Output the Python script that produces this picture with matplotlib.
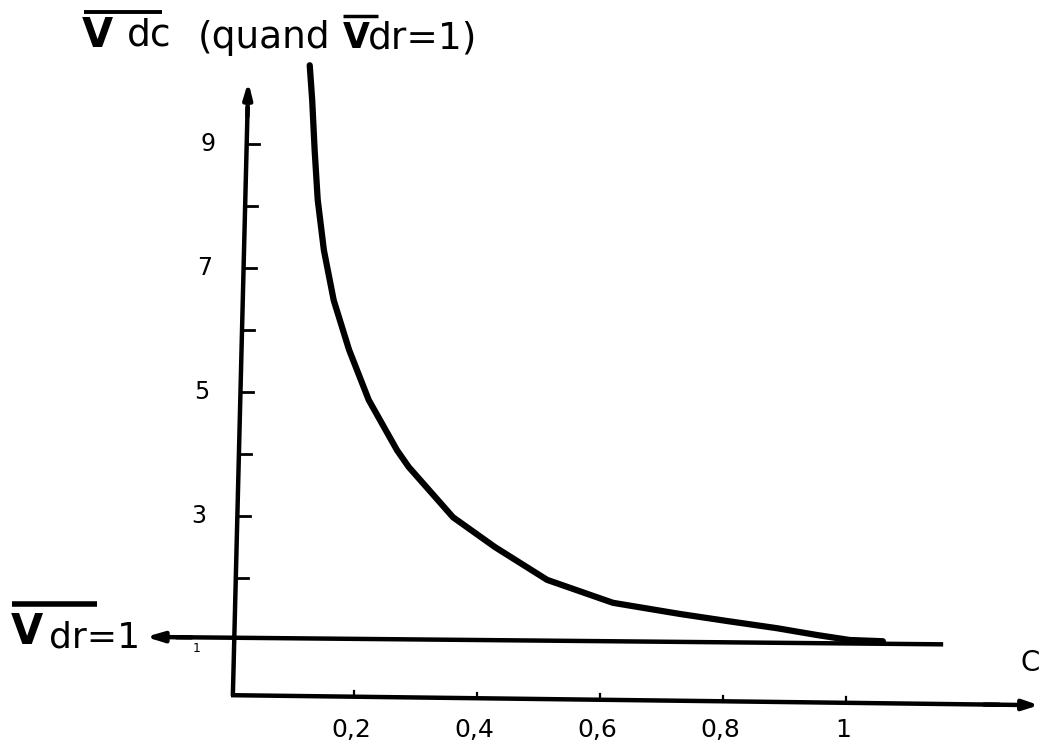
import matplotlib
matplotlib.use("Agg")
import matplotlib.pyplot as plt

# Data
c_values = [0.128, 0.132, 0.136, 0.141, 0.151, 0.167, 0.192, 0.224, 0.270,
            0.289, 0.361, 0.429, 0.514, 0.621, 0.730, 0.811, 0.888, 0.953,
            1.006, 1.06]
v_values = [10.27, 9.71, 8.90, 8.10, 7.29, 6.48, 5.68, 4.87, 4.06,
            3.79, 2.98, 2.50, 1.97, 1.60, 1.42, 1.30, 1.19, 1.08,
            1.00, 0.98]
x_ticks = [0.2, 0.4, 0.6, 0.8, 1.0]
x_tick_labels = ["0,2", "0,4", "0,6", "0,8", "1"]
y_ticks = [2, 3, 4, 5, 6, 7, 8, 9]
y_label_values = [3, 5, 7, 9]
y_tick_labels = ["3", "5", "7", "9"]

W, H = 1043, 744
fig = plt.figure(figsize=(W / 100, H / 100), dpi=100)
ax = fig.add_axes([0, 0, 1, 1])
# layout mapping: x_px = 231 + 615*c ; y_px = 702 - 62*v
ax.set_xlim(-231 / 615, (W - 231) / 615)
ax.set_ylim((702 - H) / 62, 702 / 62)
ax.axis("off")


def P(px, py):
    """pixel position (from top-left) -> data coordinates (for annotations)"""
    return (px - 231) / 615, (702 - py) / 62


black = "black"
lw_axis = 3.2
FONT = "DejaVu Sans"

# y-axis (slightly tilted, as drawn by hand)
def yaxis_x(v):
    return 0.003 + (0.028 - 0.003) * (v - 0.1) / (9.98 - 0.1)

ax.plot([yaxis_x(0.1), yaxis_x(9.6)], [0.1, 9.6], color=black, lw=lw_axis,
        solid_capstyle="butt")
ax.annotate("", xy=(yaxis_x(10.05), 10.05), xytext=(yaxis_x(9.4), 9.4),
            arrowprops=dict(arrowstyle="-|>,head_length=0.9,head_width=0.25",
                            color=black, lw=lw_axis))
for t in y_ticks:
    x0 = yaxis_x(t)
    ax.plot([x0, x0 + 0.02], [t, t], color=black, lw=2.0)
for v, lab in zip(y_label_values, y_tick_labels):
    ax.text(yaxis_x(v) - 0.063, v, lab, ha="center", va="center",
            fontsize=17, family=FONT)

# x-axis (slightly tilted)
def xaxis_y(c):
    return 0.11 + (-0.05 - 0.11) * c / 1.3

ax.plot([0.0, 1.25], [xaxis_y(0.0), xaxis_y(1.25)], color=black, lw=lw_axis,
        solid_capstyle="butt")
ax.annotate("", xy=(1.318, xaxis_y(1.318)), xytext=(1.22, xaxis_y(1.22)),
            arrowprops=dict(arrowstyle="-|>,head_length=0.9,head_width=0.3",
                            color=black, lw=lw_axis))
for t, lab in zip(x_ticks, x_tick_labels):
    y0 = xaxis_y(t)
    ax.plot([t, t], [y0, y0 + 0.09], color=black, lw=1.6)
    ax.text(t - 0.005, -0.45, lab, ha="center", va="center",
            fontsize=18, family=FONT)
ax.text(*P(1030, 663), "C", ha="center", va="center", fontsize=20,
        family=FONT)

# horizontal line at 1 with arrow pointing left
def hline_y(c):
    return 1.05 + (0.93 - 1.05) * (c + 0.143) / (1.158 + 0.143)

ax.plot([-0.09, 1.158], [hline_y(-0.09), hline_y(1.158)], color=black,
        lw=lw_axis, solid_capstyle="butt")
ax.annotate("", xy=(-0.143, hline_y(-0.143)), xytext=(-0.06, hline_y(-0.06)),
            arrowprops=dict(arrowstyle="-|>,head_length=1.0,head_width=0.3",
                            color=black, lw=lw_axis))
ax.text(*P(197, 648), "1", ha="center", va="center", fontsize=9, family=FONT)

# left label: radical drawn as bold V with overline, then "dr=1"
ax.text(*P(27, 632), "V", ha="center", va="center", fontsize=30,
        fontweight="bold", family=FONT)
x0, y0 = P(12, 604)
x1, _ = P(97, 604)
ax.plot([x0, x1], [y0, y0], color=black, lw=4.0, solid_capstyle="butt")
ax.text(*P(49, 638), "dr=1", ha="left", va="center", fontsize=26,
        family=FONT)

# curve
ax.plot(c_values, v_values, color=black, lw=4.5, solid_capstyle="round",
        solid_joinstyle="round")

# title: "V dc (quand V dr=1)" with hand-drawn radicals
ax.text(*P(97, 36), "V", ha="center", va="center", fontsize=29,
        fontweight="bold", family=FONT)
x0, y0 = P(84, 12)
x1, _ = P(162, 12)
ax.plot([x0, x1], [y0, y0], color=black, lw=2.8, solid_capstyle="butt")
ax.text(*P(127, 36), "dc", ha="left", va="center", fontsize=27, family=FONT)
ax.text(*P(198, 38), "(quand", ha="left", va="center", fontsize=27,
        family=FONT)
ax.text(*P(356, 38), "V", ha="center", va="center", fontsize=25,
        fontweight="bold", family=FONT)
x0, y0 = P(343, 16)
x1, _ = P(378, 16)
ax.plot([x0, x1], [y0, y0], color=black, lw=2.5, solid_capstyle="butt")
ax.text(*P(368, 38), "dr=1)", ha="left", va="center", fontsize=27,
        family=FONT)

fig.savefig("out.png", dpi=100, facecolor="white")
